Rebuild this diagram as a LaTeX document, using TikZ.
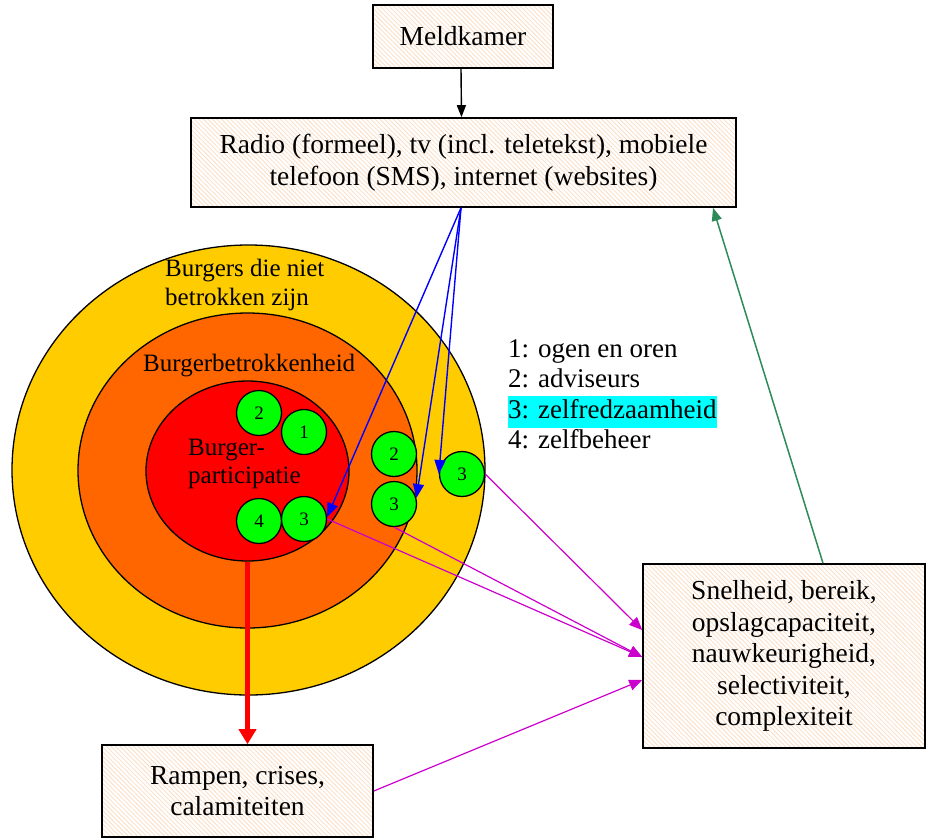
\documentclass[tikz,border=0pt]{standalone}
\usepackage{fontspec}
\setmainfont{Liberation Serif}
\usetikzlibrary{arrows.meta,patterns.meta,shapes.geometric}

\definecolor{ringouter}{RGB}{255,204,0}
\definecolor{ringmid}{RGB}{255,102,0}
\definecolor{ringinner}{RGB}{255,0,0}
\definecolor{discgreen}{RGB}{0,255,0}
\definecolor{hatchpeach}{RGB}{252,222,196}
\definecolor{linkmagenta}{RGB}{204,0,204}
\definecolor{linkgreen}{RGB}{46,139,87}
\definecolor{markcyan}{RGB}{0,255,255}

\begin{document}
\begin{tikzpicture}[x=1pt,y=-1pt,
  box/.style={draw, line width=1.6pt, preaction={fill=white},
    pattern={Lines[angle=-45,distance=3.2pt,line width=0.8pt]},
    pattern color=hatchpeach, align=center, inner sep=0pt,
    font=\fontsize{27.5pt}{31.5pt}\selectfont},
  ring/.style={ellipse, draw, line width=1.3pt, inner sep=0pt},
  disc/.style={circle, draw, line width=1.3pt, fill=discgreen,
    minimum size=45pt, inner sep=0pt, font=\fontsize{19pt}{19pt}\selectfont},
  ringlabel/.style={anchor=west, align=left, inner sep=0pt,
    font=\fontsize{25pt}{29pt}\selectfont},
  legend/.style={anchor=base west, inner sep=0pt,
    font=\fontsize{27pt}{30pt}\selectfont},
  blueflow/.style={blue, line width=1.4pt, -{Triangle[length=14pt,width=11pt]}},
  magflow/.style={linkmagenta, line width=1.2pt, -{Triangle[length=13pt,width=11pt]}},
]
\useasboundingbox (0,0) rectangle (927,839);

% boxes
\node[box, minimum width=180pt, minimum height=63pt] (meld) at (463,36.5) {Meldkamer};
\node[box, minimum width=545pt, minimum height=89pt] (radio) at (463.5,162.5)
  {Radio (formeel), tv (incl. teletekst), mobiele\\telefoon (SMS), internet (websites)};
\node[box, minimum width=282pt, minimum height=184pt] (snel) at (784,656)
  {Snelheid, bereik,\\opslagcapaciteit,\\nauwkeurigheid,\\selectiviteit,\\complexiteit};
\node[box, minimum width=271pt, minimum height=92pt] (ramp) at (237.5,791)
  {Rampen, crises,\\calamiteiten};

% nested rings
\node[ring, fill=ringouter, minimum width=473pt, minimum height=450pt] (outer) at (248.5,470) {};
\node[ring, fill=ringmid, minimum width=339pt, minimum height=315pt] (middle) at (247.5,470.5) {};
\node[ring, fill=ringinner, minimum width=203pt, minimum height=180pt] (inner) at (247.5,471) {};

\node[ringlabel] (lblout) at (165,285) {Burgers die niet\\betrokken zijn};
\node[ringlabel] (lblmid) at (143,366) {Burgerbetrokkenheid};
\node[ringlabel, font=\fontsize{25pt}{28pt}\selectfont] (lblin) at (188,464) {Burger-\\participatie};

% role discs
\node[disc] (c2in)  at (259,413) {2};
\node[disc] (c1in)  at (304,432) {1};
\node[disc] (c4in)  at (259,521) {4};
\node[disc] (c3in)  at (304,519) {3};
\node[disc] (c2mid) at (394,454) {2};
\node[disc] (c3mid) at (394,504) {3};
\node[disc] (c3out) at (462,474) {3};

% legend
\node[legend] (leg1) at (508,357) {1: ogen en oren};
\node[legend] (leg2) at (508,387) {2: adviseurs};
\node[legend, fill=markcyan, text height=22pt, text depth=10pt] (leg3) at (508,418) {3: zelfredzaamheid};
\node[legend] (leg4) at (508,448) {4: zelfbeheer};

% connectors
\draw[line width=1.4pt, -{Triangle[length=12pt,width=9pt]}]
  ([xshift=-2pt]meld.south) -- ([xshift=-2pt]radio.north);

\draw[blueflow] ([xshift=-2.5pt]radio.south) -- (c3in.5);
\draw[blueflow] ([xshift=-2.5pt]radio.south) -- (c3mid.15);
\draw[blueflow] ([xshift=-2.5pt]radio.south) -- (c3out.west);

\draw[magflow] (c3out.east) -- ([yshift=26pt]snel.west);
\draw[magflow] (c3in.east) -- ([yshift=-1pt]snel.west);
\draw[magflow] (c3mid.south) -- ([yshift=-1pt]snel.west);
\draw[magflow] (ramp.east) -- ([yshift=-24pt]snel.west);

\draw[linkgreen, line width=1.5pt, -{Triangle[length=13pt,width=10pt]}]
  ([xshift=39pt]snel.north) -- ([xshift=249.5pt]radio.south);

\draw[ringinner, line width=4.5pt, -{Triangle[length=15pt,width=17pt]}]
  (inner.south) -- (inner.south |- ramp.north);
\end{tikzpicture}
\end{document}
